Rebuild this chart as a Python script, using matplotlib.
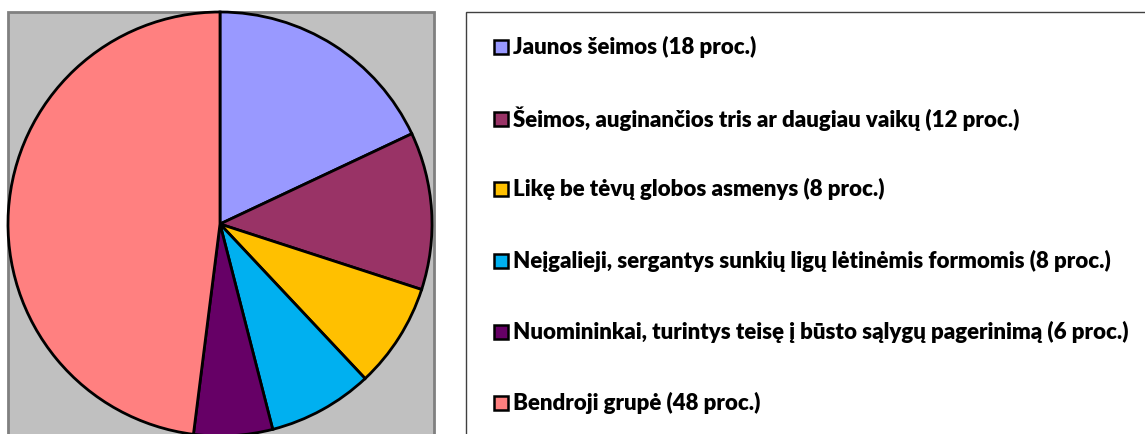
import matplotlib.pyplot as plt
from matplotlib.patches import Rectangle

labels = [
    "Jaunos šeimos (18 proc.)",
    "Šeimos, auginančios tris ar daugiau vaikų (12 proc.)",
    "Likę be tėvų globos asmenys (8 proc.)",
    "Neįgalieji, sergantys sunkių ligų lėtinėmis formomis (8 proc.)",
    "Nuomininkai, turintys teisę į būsto sąlygų pagerinimą (6 proc.)",
    "Bendroji grupė (48 proc.)",
]
shares = [18, 12, 8, 8, 6, 48]
colors = ["#9999FF", "#993366", "#FFC000", "#00B0F0", "#660066", "#FF8080"]

W, H = 1145, 434
fig = plt.figure(figsize=(W / 100, H / 100), dpi=100)

# gray plot area
fig.patches.append(Rectangle((8 / W, -10 / H), 426 / W, (H - 12 + 10) / H,
                             transform=fig.transFigure, facecolor="#C0C0C0",
                             edgecolor="#808080", linewidth=2, zorder=-2))
# legend frame
fig.patches.append(Rectangle((466 / W, -10 / H), 700 / W, (H - 12 + 10) / H,
                             transform=fig.transFigure, facecolor="white",
                             edgecolor="#404040", linewidth=1.0, zorder=-2))

ax = fig.add_axes([8 / W, -2 / H, 424 / W, 424 / H])
ax.set_zorder(1)
ax.patch.set_visible(False)
ax.pie(shares, colors=colors, startangle=90, counterclock=False,
       wedgeprops=dict(edgecolor="black", linewidth=2))
ax.set_xlim(-1.0, 1.0)
ax.set_ylim(-1.0, 1.0)
ax.set_aspect("equal")
ax.axis("off")

row_y = [47, 119, 189, 261, 332, 403]
for lab, col, y in zip(labels, colors, row_y):
    fig.patches.append(Rectangle((494 / W, (H - y - 7) / H), 14 / W, 14 / H,
                                 transform=fig.transFigure, facecolor=col,
                                 edgecolor="black", linewidth=1.8, zorder=2))
    fig.text(513 / W, (H - y) / H, lab, fontsize=16, fontweight="heavy",
             family=["Lato", "DejaVu Sans"], va="center", ha="left")

fig.savefig("out.png", dpi=100)
